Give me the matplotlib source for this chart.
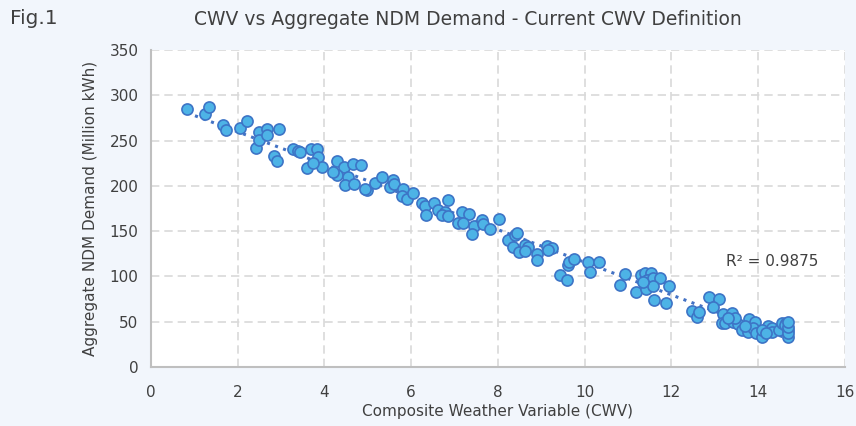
import numpy as np
import matplotlib
matplotlib.use('Agg')
import matplotlib.pyplot as plt

# CWV values and aggregate NDM demand
cwv = [0.83, 1.24, 1.34, 1.66, 1.73, 2.05, 2.21, 2.42, 2.49, 2.49,
       2.67, 2.67, 2.95, 2.83, 2.90, 3.27, 3.39, 3.43, 3.69, 3.82,
       3.85, 3.59, 3.94, 3.73, 4.29, 4.45, 4.29, 4.54, 4.47, 4.68,
       4.65, 4.84, 4.19, 4.98, 4.93, 5.16, 5.32, 5.51, 5.58, 5.60,
       5.81, 5.78, 5.90, 6.04, 6.24, 6.31, 6.34, 6.52, 6.61, 6.77,
       6.71, 6.84, 6.84, 7.17, 7.33, 7.07, 7.19, 7.44, 7.40, 7.63,
       7.65, 7.81, 8.02, 8.23, 8.39, 8.43, 8.34, 8.48, 8.62, 8.69,
       8.62, 8.89, 8.89, 9.12, 9.24, 9.15, 9.42, 9.59, 9.61, 9.65,
       9.75, 10.07, 10.12, 10.32, 10.81, 10.94, 11.18, 11.31, 11.38, 11.54,
       11.43, 11.57, 11.73, 11.41, 11.57, 11.94, 11.59, 11.87, 11.34, 12.47,
       12.60, 12.63, 12.86, 13.09, 12.97, 13.18, 13.16, 13.39, 13.23, 13.41,
       13.53, 13.62, 13.78, 13.92, 13.76, 13.87, 13.96, 14.08, 14.22, 14.31,
       14.10, 14.33, 14.19, 14.49, 14.54, 14.65, 14.61, 14.68, 14.68, 14.68,
       14.68, 13.46, 13.30, 13.69, 14.70]
demand = [285, 279, 287, 267, 262, 264, 272, 242, 259, 251,
          263, 256, 263, 233, 228, 241, 238, 237, 241, 241,
          232, 220, 221, 225, 228, 221, 212, 210, 201, 202,
          224, 223, 215, 195, 196, 203, 210, 199, 206, 202,
          196, 189, 185, 192, 181, 178, 168, 181, 173, 171,
          168, 184, 167, 171, 169, 159, 159, 156, 147, 162,
          158, 152, 163, 140, 146, 148, 132, 127, 135, 132,
          128, 125, 118, 134, 131, 129, 102, 96, 113, 116,
          119, 116, 105, 116, 91, 103, 83, 102, 104, 104,
          96, 98, 98, 86, 89, 89, 74, 71, 94, 62,
          55, 61, 77, 75, 66, 58, 49, 60, 49, 50,
          47, 41, 53, 50, 39, 43, 38, 33, 45, 43,
          41, 39, 38, 41, 49, 49, 46, 41, 33, 38,
          44, 54, 54, 45, 50]

x_ticks = [0, 2, 4, 6, 8, 10, 12, 14, 16]
y_ticks = [0, 50, 100, 150, 200, 250, 300, 350]
r2_label = 'R² = 0.9875'

bg = '#F2F6FC'
txt = '#404040'
plt.rcParams['font.family'] = ['DejaVu Sans']

fig = plt.figure(figsize=(8.56, 4.26), dpi=100, facecolor=bg)
ax = fig.add_axes([0.1764, 0.1385, 0.8106, 0.7441])
ax.set_facecolor('white')

ax.scatter(cwv, demand, s=64, c='#4DB3E6', edgecolors='#3D74C6',
           linewidths=1.2, zorder=3)

# linear trendline
k, b = np.polyfit(cwv, demand, 1)
xs = np.array([min(cwv), max(cwv)])
ax.plot(xs, k * xs + b, linestyle=(0, (1, 1.8)), color='#4472C4', lw=2.2,
        zorder=2)

ax.text(13.27, 116, r2_label, fontsize=11, color=txt, va='center')

ax.set_xlim(0, 16)
ax.set_ylim(0, 350)
ax.set_xticks(x_ticks)
ax.set_yticks(y_ticks)
ax.tick_params(length=0, labelsize=11, labelcolor=txt)
ax.tick_params(axis='x', pad=13)
ax.tick_params(axis='y', pad=9)
ax.grid(True, linestyle=(0, (5, 3)), color='#D9D9D9', lw=1.2)
ax.set_axisbelow(True)
for s in ['top', 'right']:
    ax.spines[s].set_visible(False)
for s in ['left', 'bottom']:
    ax.spines[s].set_color('#BFBFBF')
    ax.spines[s].set_linewidth(1.5)

ax.set_xlabel('Composite Weather Variable (CWV)', fontsize=11, color=txt,
              labelpad=3)
ax.set_ylabel('Aggregate NDM Demand (Million kWh)', fontsize=11, color=txt,
              labelpad=8)

fig.text(0.012, 0.957, 'Fig.1', fontsize=14.5, color=txt, va='center')
fig.text(0.547, 0.955, 'CWV vs Aggregate NDM Demand - Current CWV Definition',
         fontsize=13.5, color=txt, ha='center', va='center')

fig.savefig('out.png', dpi=100, facecolor=bg)
